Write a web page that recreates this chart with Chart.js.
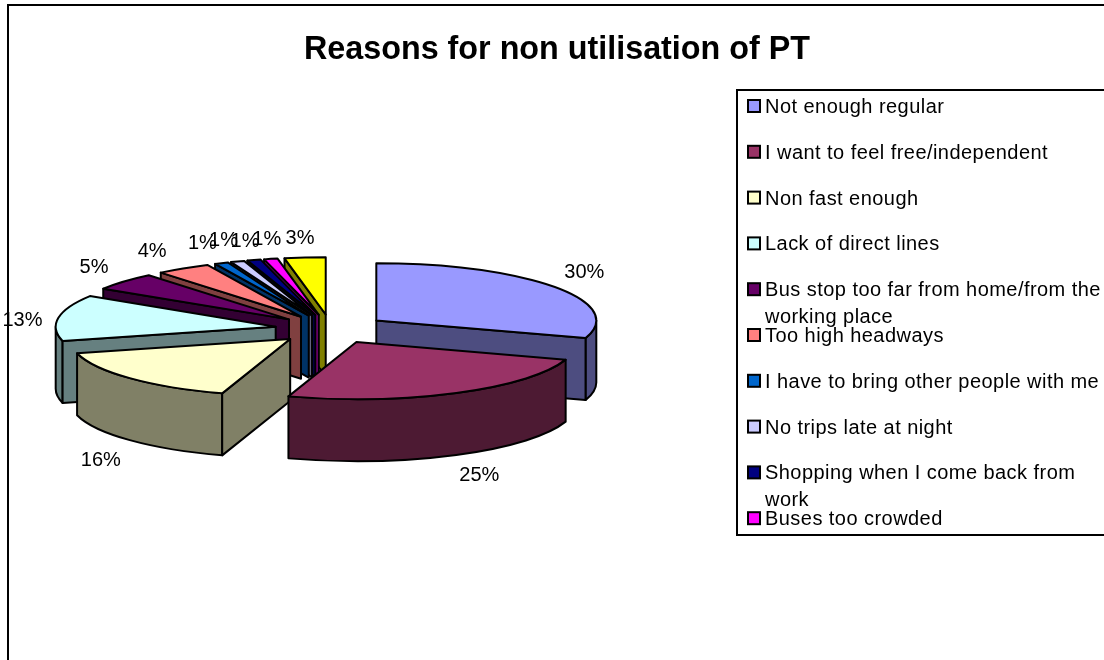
<!DOCTYPE html>
<html>
<head>
<meta charset="utf-8">
<title>Reasons for non utilisation of PT</title>
<script src="https://cdn.jsdelivr.net/npm/chart.js@4"></script>
<style>
  html, body { margin: 0; padding: 0; background: #fff; overflow: hidden; }
  canvas { display: block; }
</style>
</head>
<body>
<canvas id="chart" width="1104" height="660"></canvas>
<script>
const chartTitle = 'Reasons for non utilisation of PT';

const categories = [
  'Not enough regular',
  'I want to feel free/independent',
  'Non fast enough',
  'Lack of direct lines',
  'Bus stop too far from home/from the working place',
  'Too high headways',
  'I have to bring other people with me',
  'No trips late at night',
  'Shopping when I come back from work',
  'Buses too crowded',
];
const shares = [30, 25, 16, 13, 5, 4, 1, 1, 1, 1, 3];
const sliceColors = [
  '#9999FF', '#993366', '#FFFFCC', '#CCFFFF', '#660066', '#FF8080',
  '#0066CC', '#CCCCFF', '#000080', '#FF00FF', '#FFFF00',
];

const FONT = '"Liberation Sans", Arial, sans-serif';

// half-tone of a slice colour, used for its side walls
function darken(hex) {
  const n = parseInt(hex.slice(1), 16);
  const half = (v) => Math.round(v / 2);
  return `rgb(${half(n >> 16)}, ${half((n >> 8) & 255)}, ${half(n & 255)})`;
}

// Draws the pie as a tilted, exploded disc from the arcs the library laid out
const pie3d = {
  id: 'pie3d',
  beforeDraw(chart) {
    const { ctx } = chart;
    ctx.save();
    ctx.strokeStyle = '#000';
    ctx.lineWidth = 2;
    ctx.strokeRect(8, 5, 1200, 800);
    ctx.restore();
  },
  beforeDatasetsDraw(chart, args, opts) {
    const { ctx } = chart;
    const arcs = chart.getDatasetMeta(0).data;

    const slices = arcs.map((arc, i) => {
      const mid = (arc.startAngle + arc.endAngle) / 2;
      return {
        i, mid,
        start: arc.startAngle,
        end: arc.endAngle,
        rx: arc.outerRadius,
        ry: arc.outerRadius * opts.tilt,
        x: opts.centerX + opts.explode * Math.cos(mid),
        y: opts.centerY + opts.explode * opts.tilt * Math.sin(mid),
        color: arc.options.backgroundColor,
      };
    });

    // back slices first so the nearer ones cover them
    const order = [...slices].sort((a, b) => Math.sin(a.mid) - Math.sin(b.mid));

    ctx.save();
    ctx.strokeStyle = '#000';
    ctx.lineWidth = 2;
    ctx.lineJoin = 'round';
    order.forEach((s) => {
      const wall = darken(s.color);
      const edge = (a) => [s.x + s.rx * Math.cos(a), s.y + s.ry * Math.sin(a)];
      const radialWall = (a) => {
        const [ex, ey] = edge(a);
        ctx.beginPath();
        ctx.moveTo(s.x, s.y);
        ctx.lineTo(ex, ey);
        ctx.lineTo(ex, ey + opts.depth);
        ctx.lineTo(s.x, s.y + opts.depth);
        ctx.closePath();
        ctx.fillStyle = wall;
        ctx.fill();
        ctx.stroke();
      };

      // rim wall only shows on the near half of the ellipse
      const from = Math.max(s.start, 0);
      const to = Math.min(s.end, Math.PI);
      if (to > from) {
        ctx.beginPath();
        ctx.ellipse(s.x, s.y, s.rx, s.ry, 0, from, to);
        ctx.ellipse(s.x, s.y + opts.depth, s.rx, s.ry, 0, to, from, true);
        ctx.closePath();
        ctx.fillStyle = wall;
        ctx.fill();
        ctx.stroke();
      }
      if (Math.cos(s.start) < 0) radialWall(s.start);
      if (Math.cos(s.end) > 0) radialWall(s.end);

      ctx.beginPath();
      ctx.moveTo(s.x, s.y);
      ctx.ellipse(s.x, s.y, s.rx, s.ry, 0, s.start, s.end);
      ctx.closePath();
      ctx.fillStyle = s.color;
      ctx.fill();
      ctx.stroke();
    });

    // value labels, placed off each slice's rim
    ctx.fillStyle = '#000';
    ctx.font = `20px ${FONT}`;
    ctx.textAlign = 'center';
    ctx.textBaseline = 'middle';
    slices.forEach((s) => {
      const [nx, ny] = opts.labelNudge[s.i];
      const px = s.x + s.rx * Math.cos(s.mid) + nx;
      const py = s.y + s.ry * Math.sin(s.mid) + ny;
      ctx.fillText(`${shares[s.i]}%`, px, py);
    });
    ctx.restore();
    return false;
  },
  afterDraw(chart, args, opts) {
    const { ctx } = chart;
    const box = opts.legendBox;
    ctx.save();
    ctx.fillStyle = '#fff';
    ctx.strokeStyle = '#000';
    ctx.lineWidth = 2;
    ctx.fillRect(box.x, box.y, 500, box.h);
    ctx.strokeRect(box.x, box.y, 500, box.h);

    ctx.font = `20px ${FONT}`;
    ctx.letterSpacing = '0.45px';
    ctx.textAlign = 'left';
    ctx.textBaseline = 'middle';
    categories.forEach((name, i) => {
      const rowY = box.firstRow + i * box.rowStep;
      ctx.fillStyle = sliceColors[i];
      ctx.fillRect(box.x + 11, rowY - 6, 12, 12);
      ctx.strokeRect(box.x + 11, rowY - 6, 12, 12);

      // wrap long entries onto a second line
      const lines = [];
      let line = '';
      name.split(' ').forEach((word) => {
        const next = line ? `${line} ${word}` : word;
        if (ctx.measureText(next).width > box.textWidth && line) {
          lines.push(line);
          line = word;
        } else {
          line = next;
        }
      });
      lines.push(line);

      ctx.fillStyle = '#000';
      lines.forEach((text, n) => ctx.fillText(text, box.x + 28, rowY + 1.5 + n * box.lineStep));
    });
    ctx.restore();
  },
};

new Chart(document.getElementById('chart'), {
  type: 'pie',
  data: {
    labels: categories,
    datasets: [{ data: shares, backgroundColor: sliceColors }],
  },
  options: {
    responsive: false,
    animation: false,
    radius: 220,
    layout: { padding: { left: 10 } },
    plugins: {
      legend: { display: false },
      tooltip: { enabled: false },
      title: {
        display: true,
        text: chartTitle,
        color: '#000',
        font: { family: FONT, size: 32.3, weight: 'bold' },
        padding: { top: 31, bottom: 10 },
      },
      pie3d: {
        centerX: 331,
        centerY: 329,
        tilt: 0.26,
        explode: 56,
        depth: 62,
        labelNudge: [
          [30, -14], [23, 83], [-29, 82], [-36, 3], [-30, -14], [-31, -17],
          [-19, -20], [-14, -21], [-9, -19], [-4, -19], [-5, -19],
        ],
        legendBox: { x: 737, y: 90, h: 445, firstRow: 106, rowStep: 45.8, lineStep: 27, textWidth: 345 },
      },
    },
  },
  plugins: [pie3d],
});
</script>
</body>
</html>
